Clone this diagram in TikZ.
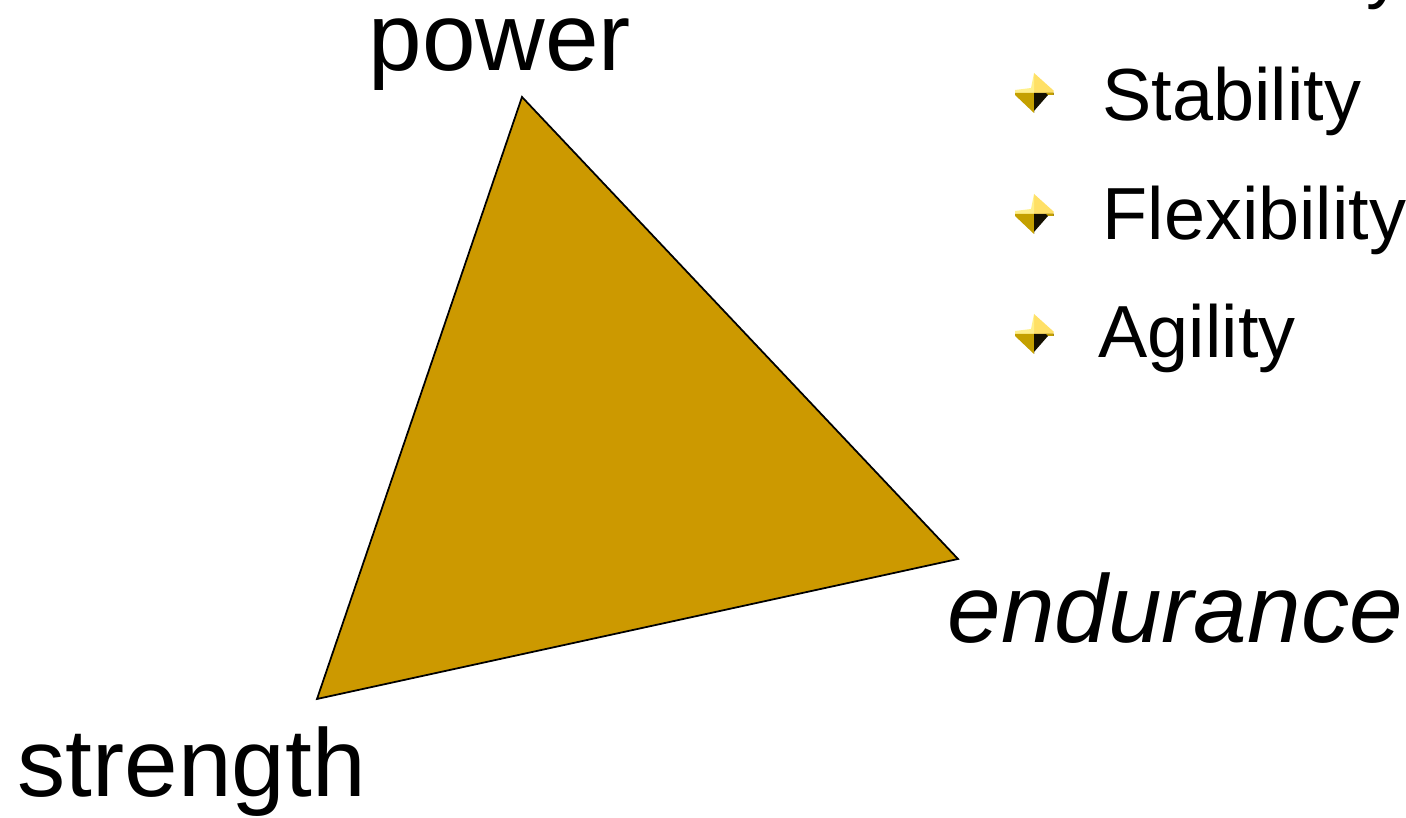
\documentclass[tikz,border=0pt]{standalone}
\usepackage{fontspec}
\setmainfont{Liberation Sans}
\usepackage{xcolor}
\usepackage{tikz}
\usetikzlibrary{positioning,calc}

\definecolor{goldfill}{HTML}{CC9900}
\definecolor{starlight}{HTML}{FFF08C}
\definecolor{staryellow}{HTML}{FFE066}
\definecolor{stargold}{HTML}{C4A000}
\definecolor{stardark}{HTML}{141000}

\tikzset{
  bulletstar/.pic={
    \fill[staryellow] (0,0) -- (0,0.20) -- (0.195,0.025) -- (0.195,0) -- cycle;
    \fill[starlight] (0,0) -- (0,0.20) -- (-0.03,0.05) -- (-0.19,0.03) -- (-0.19,0) -- cycle;
    \fill[stargold] (0,0) -- (-0.19,0) -- (-0.19,-0.02) -- (0,-0.20) -- cycle;
    \fill[stardark] (0,0) -- (0.195,0) -- (0.195,-0.02) -- (0.14,-0.02) -- (0,-0.18) -- (0,-0.20) -- cycle;
    \fill[stargold] (0.14,-0.02) -- (0.195,-0.02) -- (0.195,0) -- (0.12,0) -- cycle;
  }
}

\begin{document}
\begin{tikzpicture}[
    corner/.style={font=\fontsize{27.4}{32}\selectfont, inner sep=0pt, anchor=base west},
    item/.style={font=\fontsize{21}{25}\selectfont, inner sep=0pt, anchor=base west},
    tri/.style={fill=goldfill, draw=black, line width=0.5pt, line join=miter}
]
\useasboundingbox (0,0) rectangle (14.06,8.18);
\clip (0,0) rectangle (14.06,8.18);

% triangle corners
\coordinate (top) at (5.22,7.21);
\coordinate (right) at (9.58,2.59);
\coordinate (left) at (3.17,1.19);
\draw[tri] (top) -- (right) -- (left) -- cycle;

\node[corner] (power) at (3.68,7.47) {power};
\node[corner] (strength) at (0.17,0.21) {strength};
\node[corner] (endurance) at (9.47,1.75) {\itshape endurance};

% list on the right
\node[item] (prev) at (13.66,8.23) {y};
\node[item] (stab) at (11.02,6.97) {Stability};
\node[item] (flex) at (11.02,5.78) {Flexibility};
\node[item] (agil) at (10.98,4.60) {Agility};

\pic at (10.34,7.25) {bulletstar};
\pic at (10.34,6.04) {bulletstar};
\pic at (10.34,4.84) {bulletstar};

\end{tikzpicture}
\end{document}
